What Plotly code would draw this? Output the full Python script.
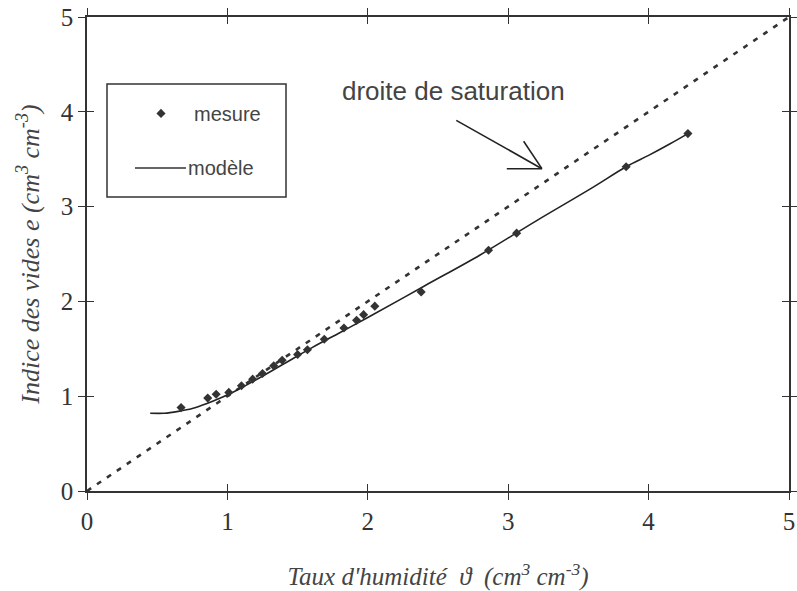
import plotly.graph_objects as go

# Measured points (taux d'humidité, indice des vides)
mesure_x = [0.67, 0.86, 0.92, 1.01, 1.10, 1.18, 1.25, 1.33, 1.39, 1.50, 1.57, 1.69, 1.83, 1.92, 1.97, 2.05, 2.38, 2.86, 3.06, 3.84, 4.28]
mesure_y = [0.88, 0.98, 1.02, 1.04, 1.11, 1.18, 1.24, 1.32, 1.38, 1.44, 1.49, 1.60, 1.72, 1.80, 1.86, 1.95, 2.10, 2.54, 2.72, 3.42, 3.77]

# Model curve
modele_x = [0.45, 0.55, 0.65, 0.75, 0.85, 0.95, 1.05, 1.2, 1.4, 1.6, 1.8, 2.0, 2.4, 2.8, 3.2, 3.6, 3.84, 4.0, 4.15, 4.28]
modele_y = [0.82, 0.82, 0.84, 0.87, 0.92, 0.98, 1.05, 1.17, 1.34, 1.51, 1.67, 1.83, 2.16, 2.49, 2.85, 3.20, 3.42, 3.54, 3.66, 3.77]

# Saturation line
sat_x = [0, 5]
sat_y = [0, 5]

# Arrow (pointing to saturation line)
arrow_tail = (2.63, 3.91)
arrow_tip = (3.24, 3.40)
arrow_head1 = (3.11, 3.69)
arrow_head2 = (2.99, 3.40)

ticks = [0, 1, 2, 3, 4, 5]

fig = go.Figure()
fig.add_trace(go.Scatter(x=sat_x, y=sat_y, mode="lines",
                         line=dict(color="#333333", width=2.6, dash="5px,7px"),
                         showlegend=False))
fig.add_trace(go.Scatter(x=modele_x, y=modele_y, mode="lines", line_shape="spline",
                         line=dict(color="#222222", width=1.6), showlegend=False))
fig.add_trace(go.Scatter(x=mesure_x, y=mesure_y, mode="markers",
                         marker=dict(color="#333333", size=7, symbol="diamond"),
                         showlegend=False))
# invisible trace for overlay axes
fig.add_trace(go.Scatter(x=[0], y=[0], xaxis="x2", yaxis="y2", mode="markers",
                         marker=dict(opacity=0), showlegend=False, hoverinfo="skip"))

# Arrow shapes
for p in (arrow_tail, arrow_head1, arrow_head2):
    fig.add_shape(type="line", x0=p[0], y0=p[1], x1=arrow_tip[0], y1=arrow_tip[1],
                  line=dict(color="#222222", width=1.6))

fig.add_annotation(x=2.607, y=4.216, text="droite de saturation", showarrow=False,
                   yanchor="middle", xanchor="center",
                   font=dict(family="Liberation Sans, Arial", size=26, color="#444444"))

# Legend box (manual)
fig.add_shape(type="rect", xref="paper", yref="paper",
              x0=(107 - 87) / 702, x1=(286 - 87) / 702,
              y0=(491 - 197) / 474, y1=(491 - 84) / 474,
              line=dict(color="#333333", width=1.5))
fig.add_shape(type="line", xref="paper", yref="paper",
              x0=(135 - 87) / 702, x1=(186 - 87) / 702,
              y0=(491 - 168) / 474, y1=(491 - 168) / 474,
              line=dict(color="#333333", width=1.5))
fig.add_trace(go.Scatter(x=[(161 - 87) / 140.4], y=[(491 - 115) / 94.4], mode="markers",
                         marker=dict(color="#333333", size=7, symbol="diamond"),
                         showlegend=False, hoverinfo="skip"))
fig.add_annotation(xref="paper", yref="paper", x=(192 - 87) / 702, y=(491 - 114) / 474,
                   text="mesure", showarrow=False, xanchor="left", yanchor="middle",
                   font=dict(family="Liberation Sans, Arial", size=20, color="#444444"))
fig.add_annotation(xref="paper", yref="paper", x=(186 - 87) / 702, y=(491 - 168) / 474,
                   text="modèle", showarrow=False, xanchor="left", yanchor="middle",
                   font=dict(family="Liberation Sans, Arial", size=20, color="#444444"))

axis_common = dict(range=[0, 5], tickvals=ticks, showgrid=False, zeroline=False,
                   showline=True, linecolor="#333333", linewidth=1.5, automargin=False,
                   mirror="ticks", tickcolor="#333333", ticklen=7, tickwidth=1.3)

tickfont = dict(family="Liberation Serif, Times New Roman", size=25, color="#333333")

fig.update_layout(
    width=797, height=591,
    margin=dict(l=87, r=8, t=17, b=100),
    paper_bgcolor="white", plot_bgcolor="white",
    font=dict(family="Liberation Serif, Times New Roman", size=21, color="#333333"),
    xaxis=dict(**axis_common, ticks="outside", tickfont=tickfont,
               title=dict(text="<i>Taux d'humidité  ϑ  (cm<sup>3</sup> cm<sup>-3</sup>)</i>",
                          font=dict(family="Liberation Serif, Times New Roman", size=25, color="#444444"),
                          standoff=34)),
    yaxis=dict(**axis_common, ticks="outside", tickfont=tickfont,
               title=dict(text="<i>Indice des vides e (cm<sup>3</sup> cm<sup>-3</sup>)</i>",
                          font=dict(family="Liberation Serif, Times New Roman", size=26, color="#444444"),
                          standoff=14)),
    xaxis2=dict(**axis_common, ticks="inside", overlaying="x", showticklabels=False, anchor="y2"),
    yaxis2=dict(**axis_common, ticks="inside", overlaying="y", showticklabels=False, anchor="x2"),
)

fig.write_html("out.html")
